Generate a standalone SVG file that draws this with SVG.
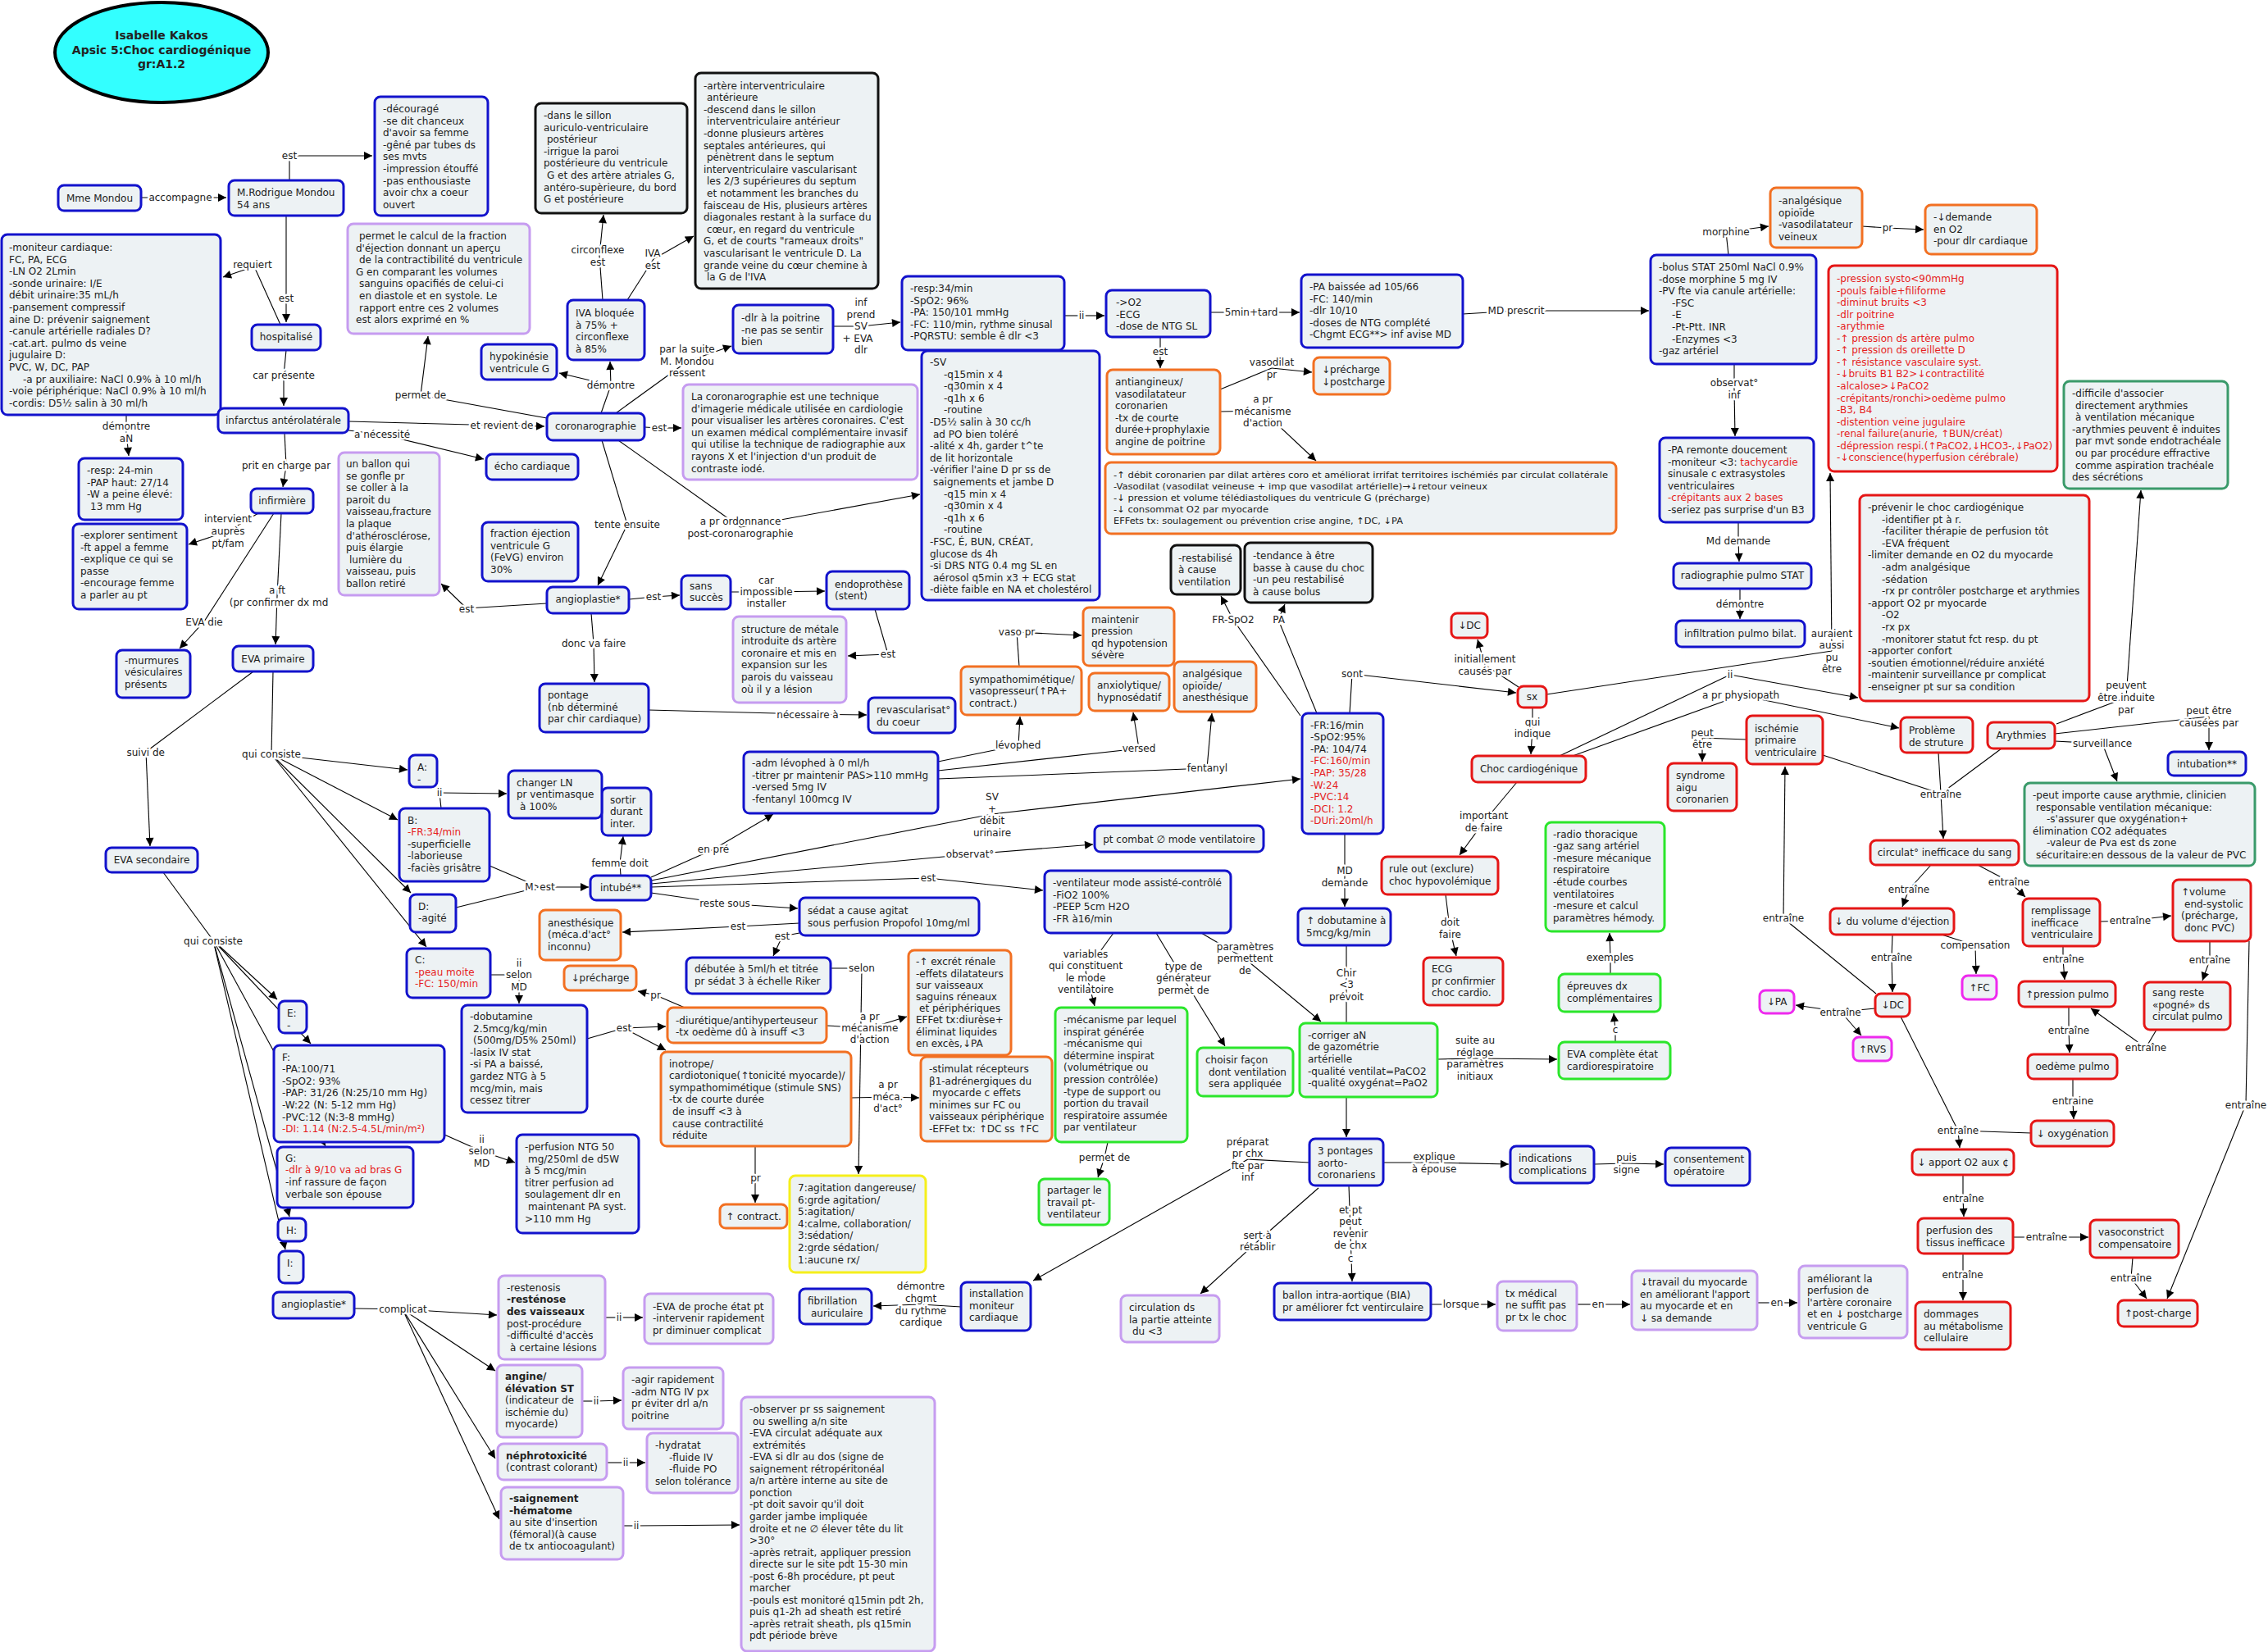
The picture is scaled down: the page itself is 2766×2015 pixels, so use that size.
<svg xmlns="http://www.w3.org/2000/svg" width="2766" height="2015" viewBox="0 0 2766 2015">
<style>
text{font-family:"DejaVu Sans",Verdana,sans-serif;font-size:12px;fill:#222}
.n{fill:#edf2f4;stroke-width:3}
.b{stroke:#1212cc}.p{stroke:#c69cf0}.o{stroke:#f27022}.r{stroke:#e51616}.g{stroke:#2be62b}.dg{stroke:#3a9a6a}.m{stroke:#ee2aee}.y{stroke:#f5ef1c}.k{stroke:#111}
.red{fill:#e61e1e}
.bd{font-weight:bold}
.c{text-anchor:middle}
.l{text-anchor:middle;stroke:#fff;stroke-width:5px;paint-order:stroke;stroke-linejoin:round}
#connectors path{fill:none;stroke:#000;stroke-width:1.1}
#connectors path.a{marker-end:url(#ah)}
</style>
<defs>
<marker id="ah" viewBox="0 0 10 10" refX="10" refY="5" markerWidth="11" markerHeight="10" markerUnits="userSpaceOnUse" orient="auto"><path d="M0,0 L10,5 L0,10 z" fill="#000"/></marker>
</defs>
<rect width="2766" height="2015" fill="#fff"/>

<g id="connectors">
<path class="a" d="M172,241 L276,241"/>
<path d="M353,220 L353,190"/><path class="a" d="M353,190 L454,190"/>
<path d="M349,263 L349,364"/><path class="a" d="M349,364 L349,393"/>
<path d="M342,396 L310,325"/><path class="a" d="M310,325 L272,338"/>
<path d="M349,427 L346,458"/><path class="a" d="M346,458 L346,495"/>
<path d="M154,506 L154,528"/><path class="a" d="M154,528 L157,556"/>
<path d="M425,514 L612,519"/><path class="a" d="M612,519 L664,520"/>
<path d="M425,525 L466,530"/><path class="a" d="M466,530 L590,560"/>
<path d="M667,510 L513,482"/><path class="a" d="M513,482 L522,410"/>
<path d="M733,504 L745,470"/><path class="a" d="M745,470 L744,441"/><path class="a" d="M745,470 L682,455"/>
<path d="M735,366 L731,312"/><path class="a" d="M731,312 L736,262"/>
<path d="M765,366 L797,316"/><path class="a" d="M797,316 L846,288"/>
<path d="M751,504 L838,441"/><path class="a" d="M838,441 L892,422"/>
<path d="M1016,398 L1050,398"/><path class="a" d="M1050,398 L1098,393"/>
<path d="M1298,385 L1319,385"/><path class="a" d="M1319,385 L1347,385"/>
<path d="M1476,381 L1526,381"/><path class="a" d="M1526,381 L1585,381"/>
<path d="M1415,411 L1415,429"/><path class="a" d="M1415,429 L1415,449"/>
<path d="M1784,383 L1849,379"/><path class="a" d="M1849,379 L2011,379"/>
<path d="M1488,475 L1551,449"/><path class="a" d="M1551,449 L1600,454"/>
<path d="M1488,502 L1540,501"/><path class="a" d="M1540,501 L1605,562"/>
<path d="M786,521 L804,522"/><path class="a" d="M804,522 L831,522"/>
<path d="M734,537 L765,640"/><path class="a" d="M765,640 L729,714"/>
<path d="M754,537 L903,643"/><path class="a" d="M903,643 L1122,603"/>
<path d="M2108,311 L2105,283"/><path class="a" d="M2105,283 L2157,276"/>
<path d="M2271,276 L2302,278"/><path class="a" d="M2302,278 L2346,280"/>
<path d="M2115,444 L2115,474"/><path class="a" d="M2115,474 L2116,532"/>
<path d="M2120,637 L2120,660"/><path class="a" d="M2120,660 L2121,685"/>
<path d="M2122,718 L2122,737"/><path class="a" d="M2122,737 L2122,755"/>
<path d="M1886,847 L2234,794"/><path class="a" d="M2234,794 L2232,577"/>
<path d="M1902,922 L2110,823"/><path class="a" d="M2110,823 L2266,851"/>
<path d="M1918,922 L2123,848"/><path class="a" d="M2123,848 L2316,888"/>
<path d="M2130,902 L2076,900"/><path class="a" d="M2076,900 L2076,929"/>
<path d="M2223,921 L2367,968"/><path d="M2364,918 L2367,968"/><path d="M2441,913 L2367,968"/><path class="a" d="M2367,968 L2370,1023"/>
<path d="M2508,883 L2593,851"/><path class="a" d="M2593,851 L2611,598"/>
<path d="M2506,895 L2694,874"/><path class="a" d="M2694,874 L2694,915"/>
<path d="M2506,904 L2564,907"/><path class="a" d="M2564,907 L2582,953"/>
<path d="M2355,1055 L2328,1085"/><path class="a" d="M2328,1085 L2320,1106"/>
<path d="M2412,1055 L2450,1075"/><path class="a" d="M2450,1075 L2470,1094"/>
<path d="M2561,1124 L2598,1123"/><path class="a" d="M2598,1123 L2648,1117"/>
<path d="M2695,1148 L2695,1171"/><path class="a" d="M2695,1171 L2686,1196"/>
<path d="M2630,1256 L2617,1278"/><path class="a" d="M2617,1278 L2550,1230"/>
<path d="M2516,1154 L2516,1170"/><path class="a" d="M2516,1170 L2518,1195"/>
<path d="M2523,1228 L2523,1257"/><path class="a" d="M2523,1257 L2524,1284"/>
<path d="M2528,1316 L2528,1343"/><path class="a" d="M2528,1343 L2529,1365"/>
<path d="M2368,1140 L2409,1153"/><path class="a" d="M2409,1153 L2410,1188"/>
<path d="M2308,1140 L2307,1167"/><path class="a" d="M2307,1167 L2308,1210"/>
<path d="M2287,1230 L2245,1234"/><path class="a" d="M2245,1234 L2190,1226"/><path class="a" d="M2245,1234 L2270,1263"/>
<path d="M2288,1212 L2175,1120"/><path class="a" d="M2175,1120 L2177,935"/>
<path d="M2318,1240 L2388,1379"/><path d="M2477,1382 L2388,1379"/><path class="a" d="M2388,1379 L2390,1400"/>
<path d="M2394,1433 L2394,1462"/><path class="a" d="M2394,1462 L2395,1484"/>
<path d="M2455,1509 L2496,1509"/><path class="a" d="M2496,1509 L2547,1509"/>
<path d="M2601,1534 L2599,1559"/><path class="a" d="M2599,1559 L2618,1584"/>
<path d="M2743,1148 L2739,1347"/><path class="a" d="M2739,1347 L2643,1584"/>
<path d="M2394,1529 L2394,1555"/><path class="a" d="M2394,1555 L2394,1586"/>
<path d="M1586,873 L1504,756"/><path class="a" d="M1504,756 L1489,727"/>
<path d="M1606,870 L1559,756"/><path class="a" d="M1559,756 L1567,737"/>
<path d="M1646,870 L1649,822"/><path class="a" d="M1649,822 L1849,845"/>
<path d="M1852,838 L1811,811"/><path class="a" d="M1811,811 L1802,780"/>
<path d="M1869,863 L1869,888"/><path class="a" d="M1869,888 L1867,920"/>
<path d="M1850,954 L1810,1002"/><path class="a" d="M1810,1002 L1780,1043"/>
<path d="M1763,1091 L1768,1132"/><path class="a" d="M1768,1132 L1776,1166"/>
<path d="M1640,1017 L1640,1069"/><path class="a" d="M1640,1069 L1640,1106"/>
<path d="M1642,1153 L1642,1201"/><path class="a" d="M1642,1201 L1642,1387"/>
<path d="M1753,1292 L1799,1291"/><path class="a" d="M1799,1291 L1899,1292"/>
<path d="M1970,1271 L1970,1256"/><path class="a" d="M1970,1256 L1968,1236"/>
<path d="M1964,1188 L1964,1168"/><path class="a" d="M1964,1168 L1963,1138"/>
<path d="M1465,1138 L1518,1169"/><path class="a" d="M1518,1169 L1611,1246"/>
<path d="M1410,1138 L1443,1193"/><path class="a" d="M1443,1193 L1494,1276"/>
<path d="M1358,1138 L1324,1185"/><path class="a" d="M1324,1185 L1335,1227"/>
<path d="M1351,1393 L1347,1412"/><path class="a" d="M1347,1412 L1339,1436"/>
<path d="M1597,1418 L1522,1414"/><path class="a" d="M1522,1414 L1260,1562"/>
<path d="M1687,1418 L1749,1418"/><path class="a" d="M1749,1418 L1840,1420"/>
<path d="M1944,1420 L1984,1419"/><path class="a" d="M1984,1419 L2029,1420"/>
<path d="M1608,1449 L1534,1514"/><path class="a" d="M1534,1514 L1464,1578"/>
<path d="M1645,1446 L1647,1505"/><path class="a" d="M1647,1505 L1649,1563"/>
<path d="M1745,1591 L1782,1591"/><path class="a" d="M1782,1591 L1824,1591"/>
<path d="M1923,1591 L1949,1591"/><path class="a" d="M1949,1591 L1988,1591"/>
<path d="M2143,1589 L2167,1589"/><path class="a" d="M2167,1589 L2192,1589"/>
<path d="M767,731 L797,728"/><path class="a" d="M797,728 L829,726"/>
<path d="M891,722 L934,722"/><path class="a" d="M934,722 L1006,721"/>
<path d="M1067,743 L1083,798"/><path class="a" d="M1083,798 L1034,800"/>
<path d="M721,748 L724,785"/><path class="a" d="M724,785 L725,832"/>
<path d="M791,866 L985,871"/><path class="a" d="M985,871 L1057,872"/>
<path d="M667,736 L569,742"/><path class="a" d="M569,742 L538,712"/>
<path d="M347,528 L349,568"/><path class="a" d="M349,568 L345,594"/>
<path d="M315,626 L278,648"/><path class="a" d="M278,648 L230,664"/>
<path d="M334,626 L249,758"/><path class="a" d="M249,758 L219,791"/>
<path d="M343,626 L338,727"/><path class="a" d="M338,727 L336,786"/>
<path d="M309,819 L178,917"/><path class="a" d="M178,917 L183,1032"/>
<path d="M333,819 L331,920"/><path class="a" d="M331,920 L497,939"/><path class="a" d="M331,920 L485,1000"/><path class="a" d="M331,920 L501,1089"/><path class="a" d="M331,920 L520,1155"/>
<path d="M538,986 L536,967"/><path class="a" d="M536,967 L618,968"/>
<path d="M597,1056 L658,1082"/><path d="M556,1107 L658,1082"/><path class="a" d="M658,1082 L718,1082"/>
<path d="M757,1068 L756,1053"/><path class="a" d="M756,1053 L760,1020"/>
<path d="M794,1070 L870,1036"/><path class="a" d="M870,1036 L943,993"/>
<path d="M794,1074 L1210,993"/><path class="a" d="M1210,993 L1586,950"/>
<path d="M794,1078 L1183,1042"/><path class="a" d="M1183,1042 L1333,1030"/>
<path d="M794,1082 L1132,1071"/><path class="a" d="M1132,1071 L1272,1086"/>
<path d="M794,1089 L884,1102"/><path class="a" d="M884,1102 L973,1108"/>
<path d="M975,1126 L900,1130"/><path class="a" d="M900,1130 L759,1137"/>
<path d="M975,1138 L954,1142"/><path class="a" d="M954,1142 L943,1166"/>
<path d="M1013,1181 L1051,1181"/><path class="a" d="M1051,1181 L1047,1432"/>
<path d="M1144,929 L1242,909"/><path class="a" d="M1242,909 L1244,874"/>
<path d="M1144,940 L1389,913"/><path class="a" d="M1389,913 L1382,869"/>
<path d="M1144,950 L1472,937"/><path class="a" d="M1472,937 L1478,870"/>
<path d="M1243,813 L1240,771"/><path class="a" d="M1240,771 L1319,775"/>
<path d="M598,1189 L633,1189"/><path class="a" d="M633,1189 L633,1224"/>
<path d="M716,1267 L761,1254"/><path class="a" d="M761,1254 L812,1252"/><path class="a" d="M761,1254 L812,1281"/>
<path d="M835,1229 L800,1214"/><path class="a" d="M800,1214 L778,1209"/>
<path d="M1008,1251 L1061,1254"/><path class="a" d="M1061,1254 L1106,1240"/>
<path d="M1038,1339 L1083,1338"/><path class="a" d="M1083,1338 L1121,1339"/>
<path d="M921,1398 L921,1437"/><path class="a" d="M921,1437 L921,1467"/>
<path d="M1172,1594 L1123,1591"/><path class="a" d="M1123,1591 L1065,1593"/>
<path d="M199,1064 L260,1147"/><path class="a" d="M260,1147 L338,1219"/><path class="a" d="M260,1147 L379,1273"/><path class="a" d="M260,1147 L397,1398"/><path class="a" d="M260,1147 L353,1484"/><path class="a" d="M260,1147 L348,1524"/>
<path d="M542,1384 L587,1404"/><path class="a" d="M587,1404 L628,1418"/>
<path d="M432,1596 L491,1597"/><path class="a" d="M491,1597 L606,1604"/><path class="a" d="M491,1597 L604,1672"/><path class="a" d="M491,1597 L604,1779"/><path class="a" d="M491,1597 L609,1853"/>
<path d="M738,1607 L755,1607"/><path class="a" d="M755,1607 L784,1607"/>
<path d="M710,1709 L727,1709"/><path class="a" d="M727,1709 L758,1708"/>
<path d="M740,1784 L763,1784"/><path class="a" d="M763,1784 L787,1784"/>
<path d="M760,1861 L776,1861"/><path class="a" d="M776,1861 L902,1860"/>

<text class="l" x="220" y="245">accompagne</text>
<text class="l" x="353" y="194">est</text>
<text class="l" x="349" y="368">est</text>
<text class="l" x="308" y="327">requiert</text>
<text class="l" x="346" y="462">car présente</text>
<text class="l" x="154" y="524">démontre<tspan x="154" dy="15">aN</tspan></text>
<text class="l" x="612" y="523">et revient de</text>
<text class="l" x="466" y="534">a nécessité</text>
<text class="l" x="513" y="486">permet de</text>
<text class="l" x="745" y="474">démontre</text>
<text class="l" x="729" y="309">circonflexe<tspan x="729" dy="15">est</tspan></text>
<text class="l" x="796" y="313">IVA<tspan x="796" dy="15">est</tspan></text>
<text class="l" x="838" y="430">par la suite<tspan x="838" dy="14.6">M. Mondou</tspan><tspan x="838" dy="14.6">ressent</tspan></text>
<text class="l" x="1050" y="373">inf<tspan x="1050" dy="14.6">prend</tspan><tspan x="1050" dy="14.6">SV</tspan><tspan x="1046" dy="14.6">+  EVA</tspan><tspan x="1050" dy="14.6">dlr</tspan></text>
<text class="l" x="1319" y="389">ii</text>
<text class="l" x="1526" y="385">5min+tard</text>
<text class="l" x="1415" y="433">est</text>
<text class="l" x="1849" y="383">MD prescrit</text>
<text class="l" x="1551" y="446">vasodilat<tspan x="1551" dy="15">pr</tspan></text>
<text class="l" x="1540" y="491">a pr<tspan x="1540" dy="14.6">mécanisme</tspan><tspan x="1540" dy="14.6">d'action</tspan></text>
<text class="l" x="804" y="526">est</text>
<text class="l" x="765" y="644">tente ensuite</text>
<text class="l" x="903" y="640">a pr ordonnance<tspan x="903" dy="14.6">post-coronarographie</tspan></text>
<text class="l" x="2105" y="287">morphine</text>
<text class="l" x="2302" y="282">pr</text>
<text class="l" x="2115" y="471">observat°<tspan x="2115" dy="15">inf</tspan></text>
<text class="l" x="2120" y="664">Md demande</text>
<text class="l" x="2122" y="741">démontre</text>
<text class="l" x="2234" y="776.5">auraient<tspan x="2234" dy="14.6">aussi</tspan><tspan x="2234" dy="14.6">pu</tspan><tspan x="2234" dy="14.6">être</tspan></text>
<text class="l" x="2110" y="827">ii</text>
<text class="l" x="2123" y="852">a pr physiopath</text>
<text class="l" x="2076" y="897.5">peut<tspan x="2076" dy="14">être</tspan></text>
<text class="l" x="2367" y="972.5">entraîne</text>
<text class="l" x="2593" y="840">peuvent<tspan x="2593" dy="15">être induite</tspan><tspan x="2593" dy="15">par</tspan></text>
<text class="l" x="2694" y="871">peut être<tspan x="2694" dy="14.6">causées par</tspan></text>
<text class="l" x="2564" y="911">surveillance</text>
<text class="l" x="2328" y="1089">entraîne</text>
<text class="l" x="2450" y="1079.6">entraîne</text>
<text class="l" x="2598" y="1127">entraîne</text>
<text class="l" x="2695" y="1175">entraîne</text>
<text class="l" x="2617" y="1282">entraîne</text>
<text class="l" x="2516.5" y="1174">entraîne</text>
<text class="l" x="2523" y="1261">entraîne</text>
<text class="l" x="2528" y="1347">entraine</text>
<text class="l" x="2409" y="1157">compensation</text>
<text class="l" x="2307" y="1171.6">entraîne</text>
<text class="l" x="2244.6" y="1238.5">entraîne</text>
<text class="l" x="2175" y="1124">entraîne</text>
<text class="l" x="2388" y="1383">entraîne</text>
<text class="l" x="2394.5" y="1466">entraîne</text>
<text class="l" x="2496" y="1512.7">entraîne</text>
<text class="l" x="2599" y="1562.7">entraîne</text>
<text class="l" x="2739" y="1351.5">entraîne</text>
<text class="l" x="2393.6" y="1559">entraîne</text>
<text class="l" x="1504" y="760">FR-SpO2</text>
<text class="l" x="1559.5" y="760">PA</text>
<text class="l" x="1649" y="825.6">sont</text>
<text class="l" x="1811" y="807.75">initiallement<tspan x="1811" dy="14.75">causés par</tspan></text>
<text class="l" x="1869" y="885">qui<tspan x="1869" dy="14">indique</tspan></text>
<text class="l" x="1809.6" y="999">important<tspan x="1809.6" dy="14.6">de faire</tspan></text>
<text class="l" x="1768.5" y="1129">doit<tspan x="1768.5" dy="14.5">faire</tspan></text>
<text class="l" x="1640" y="1066">MD<tspan x="1640" dy="15">demande</tspan></text>
<text class="l" x="1642" y="1190.8">Chir<tspan x="1642" dy="14.5">&lt;3</tspan><tspan x="1642" dy="14.6">prévoit</tspan></text>
<text class="l" x="1799" y="1273">suite au<tspan x="1799" dy="14.6">réglage</tspan><tspan x="1799" dy="14.6">paramètres</tspan><tspan x="1799" dy="14.6">initiaux</tspan></text>
<text class="l" x="1970" y="1260">c</text>
<text class="l" x="1963.6" y="1172">exemples</text>
<text class="l" x="1518.5" y="1158.6">paramètres<tspan x="1518.5" dy="14.6">permettent</tspan><tspan x="1518.5" dy="14.6">de</tspan></text>
<text class="l" x="1443.5" y="1182.75">type de<tspan x="1443.5" dy="14.6">générateur</tspan><tspan x="1443.5" dy="14.6">permet de</tspan></text>
<text class="l" x="1324" y="1167.6">variables<tspan x="1324" dy="14.6">qui constituent</tspan><tspan x="1324" dy="14.6">le mode</tspan><tspan x="1324" dy="14.6">ventilatoire</tspan></text>
<text class="l" x="1347" y="1416">permet de</text>
<text class="l" x="1521.6" y="1396.5">préparat<tspan x="1521.6" dy="14.6">pr chx</tspan><tspan x="1521.6" dy="14.6">fte par</tspan><tspan x="1521.6" dy="14.6">inf</tspan></text>
<text class="l" x="1749" y="1415">explique<tspan x="1749" dy="14.7">à épouse</tspan></text>
<text class="l" x="1983.7" y="1416">puis<tspan x="1983.7" dy="14.5">signe</tspan></text>
<text class="l" x="1533.7" y="1510.6">sert à<tspan x="1533.7" dy="14.4">rétablir</tspan></text>
<text class="l" x="1647" y="1479.6">et pt<tspan x="1647" dy="14.5">peut</tspan><tspan x="1647" dy="14.5">revenir</tspan><tspan x="1647" dy="14.5">de chx</tspan><tspan x="1647" dy="15.5">c</tspan></text>
<text class="l" x="1782" y="1595">lorsque</text>
<text class="l" x="1949" y="1595">en</text>
<text class="l" x="2167" y="1593">en</text>
<text class="l" x="797" y="732">est</text>
<text class="l" x="934.5" y="711.8">car<tspan x="934.5" dy="14.3">impossible</tspan><tspan x="934.5" dy="14.3">installer</tspan></text>
<text class="l" x="1083" y="802">est</text>
<text class="l" x="724" y="789">donc va faire</text>
<text class="l" x="985" y="875.6">nécessaire à</text>
<text class="l" x="569" y="746.6">est</text>
<text class="l" x="349" y="572">prit en charge par</text>
<text class="l" x="278" y="637">intervient<tspan x="278" dy="15">auprès</tspan><tspan x="278" dy="15">pt/fam</tspan></text>
<text class="l" x="249" y="762.7">EVA die</text>
<text class="l" x="338" y="724">a ft<tspan x="340" dy="14.6">(pr confirmer dx md</tspan></text>
<text class="l" x="177.7" y="921.6">suivi de</text>
<text class="l" x="331" y="924">qui consiste</text>
<text class="l" x="536" y="971">ii</text>
<text class="l" x="658.5" y="1086">M. est</text>
<text class="l" x="756" y="1057">femme doit</text>
<text class="l" x="870" y="1040">en pré</text>
<text class="l" x="1210" y="975.6">SV<tspan x="1210" dy="15">+</tspan><tspan x="1210" dy="14.6">débit</tspan><tspan x="1210" dy="14.3">urinaire</tspan></text>
<text class="l" x="1183" y="1046">observat°</text>
<text class="l" x="1132" y="1075">est</text>
<text class="l" x="884" y="1106">reste sous</text>
<text class="l" x="900" y="1134">est</text>
<text class="l" x="954" y="1146">est</text>
<text class="l" x="1051" y="1185">selon</text>
<text class="l" x="1241.6" y="912.7">lévophed</text>
<text class="l" x="1389" y="917">versed</text>
<text class="l" x="1472.5" y="941">fentanyl</text>
<text class="l" x="1240" y="774.7">vaso pr</text>
<text class="l" x="633" y="1178.7">ii<tspan x="633" dy="14.4">selon</tspan><tspan x="633" dy="14.7">MD</tspan></text>
<text class="l" x="761" y="1257.75">est</text>
<text class="l" x="799.6" y="1217.6">pr</text>
<text class="l" x="1060.8" y="1243.5">a pr<tspan x="1060.8" dy="14.2">mécanisme</tspan><tspan x="1060.8" dy="14">d'action</tspan></text>
<text class="l" x="1083" y="1327">a pr<tspan x="1083" dy="14.7">méca.</tspan><tspan x="1083" dy="14.4">d'act°</tspan></text>
<text class="l" x="921.5" y="1441">pr</text>
<text class="l" x="1123" y="1573.4">démontre<tspan x="1123" dy="14.6">chgmt</tspan><tspan x="1123" dy="14.6">du rythme</tspan><tspan x="1123" dy="14.6">cardique</tspan></text>
<text class="l" x="260" y="1151.5">qui consiste</text>
<text class="l" x="587.5" y="1393.5">ii<tspan x="587.5" dy="14.6">selon</tspan><tspan x="587.5" dy="14.6">MD</tspan></text>
<text class="l" x="491.5" y="1601">complicat</text>
<text class="l" x="755" y="1611">ii</text>
<text class="l" x="727" y="1713">ii</text>
<text class="l" x="763" y="1788">ii</text>
<text class="l" x="776" y="1865">ii</text>
</g>

<g id="title"><ellipse cx="197" cy="64" rx="130" ry="61" fill="#33ffff" stroke="#000" stroke-width="4"/><text class="c bd" style="font-size:14px" x="197" y="48">Isabelle Kakos<tspan x="197" dy="17.5">Apsic 5:Choc cardiogénique</tspan><tspan x="197" dy="17.5">gr:A1.2</tspan></text></g>

<g id="mme"><rect class="n b" x="71" y="226" width="101" height="31" rx="7"/><text class="c" x="121.5" y="245.5">Mme Mondou</text></g>
<g id="rodrigue"><rect class="n b" x="279" y="220" width="140" height="43" rx="7"/><text x="289" y="239">M.Rodrigue Mondou<tspan x="289" dy="14.6">54 ans</tspan></text></g>
<g id="decourage"><rect class="n b" x="457" y="118" width="138" height="145" rx="7"/><text x="467" y="137">-découragé<tspan x="467" dy="14.6">-se dit chanceux</tspan><tspan x="467" dy="14.6">d'avoir sa femme</tspan><tspan x="467" dy="14.6">-gêné par tubes ds</tspan><tspan x="467" dy="14.6">ses mvts</tspan><tspan x="467" dy="14.6">-impression étouffé</tspan><tspan x="467" dy="14.6">-pas enthousiaste</tspan><tspan x="467" dy="14.6">avoir chx a coeur</tspan><tspan x="467" dy="14.6">ouvert</tspan></text></g>
<g id="moniteur"><rect class="n b" x="2" y="286" width="267" height="220" rx="7"/><text x="11" y="306">-moniteur cardiaque:<tspan x="11" dy="14.6">FC, PA, ECG</tspan><tspan x="11" dy="14.6">-LN O2 2Lmin</tspan><tspan x="11" dy="14.6">-sonde urinaire: I/E</tspan><tspan x="11" dy="14.6">débit urinaire:35 mL/h</tspan><tspan x="11" dy="14.6">-pansement compressif</tspan><tspan x="11" dy="14.6">aine D: prévenir saignement</tspan><tspan x="11" dy="14.6">-canule artérielle radiales D?</tspan><tspan x="11" dy="14.6">-cat.art. pulmo ds veine</tspan><tspan x="11" dy="14.6">jugulaire D:</tspan><tspan x="11" dy="14.6">PVC, W, DC, PAP</tspan><tspan x="28" dy="14.6">-a pr auxiliaire: NaCl 0.9% à 10 ml/h</tspan><tspan x="11" dy="14.6">-voie périphérique: NaCl 0.9% à 10 ml/h</tspan><tspan x="11" dy="14.6">-cordis: D5½ salin à 30 ml/h</tspan></text></g>
<g id="hospitalise"><rect class="n b" x="307" y="396" width="84" height="31" rx="7"/><text class="c" x="349" y="415">hospitalisé</text></g>
<g id="infarctus"><rect class="n b" x="266" y="498" width="159" height="30" rx="7"/><text class="c" x="345.5" y="517">infarctus antérolatérale</text></g>
<g id="resp24"><rect class="n b" x="96" y="559" width="127" height="75" rx="7"/><text x="106" y="578">-resp: 24-min<tspan x="106" dy="14.6">-PAP haut: 27/14</tspan><tspan x="106" dy="14.6">-W a peine élevé:</tspan><tspan x="110" dy="14.6">13 mm Hg</tspan></text></g>
<g id="coronarographie"><rect class="n b" x="667" y="504" width="119" height="33" rx="7"/><text class="c" x="726.5" y="524">coronarographie</text></g>
<g id="permetcalc"><rect class="n p" x="424" y="273" width="222" height="134" rx="7"/><text x="438" y="292">permet le calcul de la fraction<tspan x="434" dy="14.6">d'éjection donnant un aperçu</tspan><tspan x="438" dy="14.6">de la contractibilité du ventricule</tspan><tspan x="434" dy="14.6">G en comparant les volumes</tspan><tspan x="438" dy="14.6">sanguins opacifiés de celui-ci</tspan><tspan x="438" dy="14.6">en diastole et en systole. Le</tspan><tspan x="438" dy="14.6">rapport entre ces 2 volumes</tspan><tspan x="434" dy="14.6">est alors exprimé en %</tspan></text></g>
<g id="hypokinesie"><rect class="n b" x="587" y="420" width="92" height="43" rx="7"/><text x="597" y="439">hypokinésie<tspan x="597" dy="14.6">ventricule G</tspan></text></g>
<g id="echo"><rect class="n b" x="593" y="554" width="112" height="31" rx="7"/><text class="c" x="649" y="573">écho cardiaque</text></g>
<g id="fraction"><rect class="n b" x="588" y="637" width="117" height="72" rx="7"/><text x="598" y="655">fraction éjection<tspan x="598" dy="14.6">ventricule G</tspan><tspan x="598" dy="14.6">(FeVG) environ</tspan><tspan x="598" dy="14.6">30%</tspan></text></g>
<g id="infirmiere"><rect class="n b" x="306" y="596" width="76" height="30" rx="7"/><text class="c" x="344" y="615">infirmière</text></g>
<g id="explorer"><rect class="n b" x="89" y="639" width="139" height="104" rx="7"/><text x="98" y="657">-explorer sentiment<tspan x="98" dy="14.6">-ft appel a femme</tspan><tspan x="98" dy="14.6">-explique ce qui se</tspan><tspan x="98" dy="14.6">passe</tspan><tspan x="98" dy="14.6">-encourage femme</tspan><tspan x="98" dy="14.6">a parler au pt</tspan></text></g>
<g id="ballon"><rect class="n p" x="413" y="552" width="123" height="174" rx="7"/><text x="422" y="570">un ballon qui<tspan x="422" dy="14.6">se gonfle pr</tspan><tspan x="422" dy="14.6">se coller à la</tspan><tspan x="422" dy="14.6">paroit du</tspan><tspan x="422" dy="14.6">vaisseau,fracture</tspan><tspan x="422" dy="14.6">la plaque</tspan><tspan x="422" dy="14.6">d'athérosclérose,</tspan><tspan x="422" dy="14.6">puis élargie</tspan><tspan x="426" dy="14.6">lumière du</tspan><tspan x="422" dy="14.6">vaisseau, puis</tspan><tspan x="422" dy="14.6">ballon retiré</tspan></text></g>
<g id="sillon"><rect class="n k" x="653" y="126" width="185" height="134" rx="7"/><text x="663" y="145">-dans le sillon<tspan x="663" dy="14.6">auriculo-ventriculaire</tspan><tspan x="667" dy="14.6">postérieur</tspan><tspan x="663" dy="14.6">-irrigue la paroi</tspan><tspan x="663" dy="14.6">postérieure du ventricule</tspan><tspan x="667" dy="14.6">G et des artère atriales G,</tspan><tspan x="663" dy="14.6">antéro-supèrieure, du bord</tspan><tspan x="663" dy="14.6">G et postérieure</tspan></text></g>
<g id="artere"><rect class="n k" x="848" y="89" width="223" height="263" rx="7"/><text x="858" y="108.5">-artère interventriculaire<tspan x="862" dy="14.6">antérieure</tspan><tspan x="858" dy="14.6">-descend dans le sillon</tspan><tspan x="862" dy="14.6">interventriculaire antérieur</tspan><tspan x="858" dy="14.6">-donne plusieurs artères</tspan><tspan x="858" dy="14.6">septales antérieures, qui</tspan><tspan x="862" dy="14.6">pénètrent dans le septum</tspan><tspan x="858" dy="14.6">interventriculaire vascularisant</tspan><tspan x="862" dy="14.6">les 2/3 supérieures du septum</tspan><tspan x="862" dy="14.6">et notamment les branches du</tspan><tspan x="858" dy="14.6">faisceau de His, plusieurs artères</tspan><tspan x="858" dy="14.6">diagonales restant à la surface du</tspan><tspan x="862" dy="14.6">cœur, en regard du ventricule</tspan><tspan x="858" dy="14.6">G, et de courts "rameaux droits"</tspan><tspan x="858" dy="14.6">vascularisant le ventricule D. La</tspan><tspan x="858" dy="14.6">grande veine du cœur chemine à</tspan><tspan x="862" dy="14.6">la G de l'IVA</tspan></text></g>
<g id="ivabloquee"><rect class="n b" x="692" y="366" width="94" height="73" rx="7"/><text x="702" y="386">IVA bloquée<tspan x="702" dy="14.6">à 75% +</tspan><tspan x="702" dy="14.6">circonflexe</tspan><tspan x="702" dy="14.6">à 85%</tspan></text></g>
<g id="dlr"><rect class="n b" x="894" y="372" width="122" height="59" rx="7"/><text x="904" y="392">-dlr à la poitrine<tspan x="904" dy="14.6">-ne pas se sentir</tspan><tspan x="904" dy="14.6">bien</tspan></text></g>
<g id="resp34"><rect class="n b" x="1100" y="337" width="198" height="90" rx="7"/><text x="1110" y="356">-resp:34/min<tspan x="1110" dy="14.6">-SpO2: 96%</tspan><tspan x="1110" dy="14.6">-PA: 150/101 mmHg</tspan><tspan x="1110" dy="14.6">-FC: 110/min, rythme sinusal</tspan><tspan x="1110" dy="14.6">-PQRSTU: semble ê dlr &lt;3</tspan></text></g>
<g id="lacoro"><rect class="n p" x="833" y="469" width="286" height="116" rx="7"/><text x="843" y="488">La coronarographie est une technique<tspan x="843" dy="14.6">d'imagerie médicale utilisée en cardiologie</tspan><tspan x="843" dy="14.6">pour visualiser les artères coronaires. C'est</tspan><tspan x="843" dy="14.6">un examen médical complémentaire invasif</tspan><tspan x="843" dy="14.6">qui utilise la technique de radiographie aux</tspan><tspan x="843" dy="14.6">rayons X et l'injection d'un produit de</tspan><tspan x="843" dy="14.6">contraste iodé.</tspan></text></g>
<g id="sv"><rect class="n b" x="1124" y="428" width="217" height="304" rx="7"/><text x="1134" y="446">-SV<tspan x="1151" dy="14.6">-q15min x 4</tspan><tspan x="1151" dy="14.6">-q30min x 4</tspan><tspan x="1151" dy="14.6">-q1h x 6</tspan><tspan x="1151" dy="14.6">-routine</tspan><tspan x="1134" dy="14.6">-D5½ salin à 30 cc/h</tspan><tspan x="1138" dy="14.6">ad PO bien toléré</tspan><tspan x="1134" dy="14.6">-alité x 4h, garder t^te</tspan><tspan x="1134" dy="14.6">de lit horizontale</tspan><tspan x="1134" dy="14.6">-vérifier l'aine D pr ss de</tspan><tspan x="1138" dy="14.6">saignements et jambe D</tspan><tspan x="1151" dy="14.6">-q15 min x 4</tspan><tspan x="1151" dy="14.6">-q30min x 4</tspan><tspan x="1151" dy="14.6">-q1h x 6</tspan><tspan x="1151" dy="14.6">-routine</tspan><tspan x="1134" dy="14.6">-FSC, É, BUN, CRÉAT,</tspan><tspan x="1134" dy="14.6">glucose ds 4h</tspan><tspan x="1134" dy="14.6">-si DRS NTG 0.4 mg SL en</tspan><tspan x="1138" dy="14.6">aérosol q5min x3 + ECG stat</tspan><tspan x="1134" dy="14.6">-diète faible en NA et cholestérol</tspan></text></g>
<g id="angio1"><rect class="n b" x="667" y="716" width="100" height="32" rx="7"/><text class="c" x="717" y="735">angioplastie*</text></g>
<g id="o2"><rect class="n b" x="1349" y="354" width="127" height="57" rx="7"/><text x="1361" y="373">-&gt;O2<tspan x="1361" dy="14.6">-ECG</tspan><tspan x="1361" dy="14.6">-dose de NTG  SL</tspan></text></g>
<g id="pabaissee"><rect class="n b" x="1587" y="335" width="197" height="89" rx="7"/><text x="1597" y="354">-PA baissée ad 105/66<tspan x="1597" dy="14.6">-FC: 140/min</tspan><tspan x="1597" dy="14.6">-dlr 10/10</tspan><tspan x="1597" dy="14.6">-doses de NTG complété</tspan><tspan x="1597" dy="14.6">-Chgmt ECG**&gt; inf avise MD</tspan></text></g>
<g id="antiang"><rect class="n o" x="1350" y="451" width="138" height="103" rx="7"/><text x="1360" y="470">antiangineux/<tspan x="1360" dy="14.6">vasodilatateur</tspan><tspan x="1360" dy="14.6">coronarien</tspan><tspan x="1360" dy="14.6">-tx de courte</tspan><tspan x="1360" dy="14.6">durée+prophylaxie</tspan><tspan x="1360" dy="14.6">angine de poitrine</tspan></text></g>
<g id="precharge1"><rect class="n o" x="1602" y="436" width="93" height="45" rx="7"/><text x="1612" y="455">↓précharge<tspan x="1612" dy="14.6">↓postcharge</tspan></text></g>
<g id="bigorange"><rect class="n o" x="1348" y="564" width="623" height="87" rx="7"/><text style="font-size:11px" x="1358" y="583" textLength="603" lengthAdjust="spacingAndGlyphs">-↑ débit coronarien par dilat artères coro et améliorat irrifat territoires ischémiés par circulat collatérale</text><text style="font-size:11px" x="1358" y="597" textLength="456" lengthAdjust="spacingAndGlyphs">-Vasodilat (vasodilat veineuse + imp que vasodilat artérielle)→↓retour veineux</text><text style="font-size:11px" x="1358" y="611" textLength="386" lengthAdjust="spacingAndGlyphs">-↓ pression et volume télédiastoliques du ventricule G (précharge)</text><text style="font-size:11px" x="1358" y="625" textLength="189" lengthAdjust="spacingAndGlyphs">-↓ consommat O2 par myocarde</text><text style="font-size:11px" x="1358" y="639" textLength="353" lengthAdjust="spacingAndGlyphs">EFFets tx: soulagement ou prévention crise angine, ↑DC, ↓PA</text></g>
<g id="bolus"><rect class="n b" x="2013" y="311" width="202" height="133" rx="7"/><text x="2023" y="330">-bolus STAT 250ml NaCl 0.9%<tspan x="2023" dy="14.6">-dose morphine 5 mg IV</tspan><tspan x="2023" dy="14.6">-PV fte via canule artérielle:</tspan><tspan x="2039" dy="14.6">-FSC</tspan><tspan x="2039" dy="14.6">-E</tspan><tspan x="2039" dy="14.6">-Pt-Ptt. INR</tspan><tspan x="2039" dy="14.6">-Enzymes &lt;3</tspan><tspan x="2023" dy="14.6">-gaz artériel</tspan></text></g>
<g id="analg"><rect class="n o" x="2159" y="229" width="112" height="73" rx="7"/><text x="2169" y="249">-analgésique<tspan x="2169" dy="14.6">opioïde</tspan><tspan x="2169" dy="14.6">-vasodilatateur</tspan><tspan x="2169" dy="14.6">veineux</tspan></text></g>
<g id="demande"><rect class="n o" x="2348" y="250" width="136" height="60" rx="7"/><text x="2358" y="269">-↓demande<tspan x="2358" dy="14.6">en O2</tspan><tspan x="2358" dy="14.6">-pour dlr cardiaque</tspan></text></g>
<g id="redsigns"><rect class="n r" x="2230" y="324" width="279" height="251" rx="7"/><text class="red" x="2240" y="344">-pression systo&lt;90mmHg<tspan x="2240" dy="14.55">-pouls faible+filiforme</tspan><tspan x="2240" dy="14.55">-diminut bruits &lt;3</tspan><tspan x="2240" dy="14.55">-dlr poitrine</tspan><tspan x="2240" dy="14.55">-arythmie</tspan><tspan x="2240" dy="14.55">-↑ pression ds artère pulmo</tspan><tspan x="2240" dy="14.55">-↑ pression ds oreillette D</tspan><tspan x="2240" dy="14.55">-↑ résistance vasculaire syst.</tspan><tspan x="2240" dy="14.55">-↓bruits B1 B2&gt;↓contractilité</tspan><tspan x="2240" dy="14.55">-alcalose&gt;↓PaCO2</tspan><tspan x="2240" dy="14.55">-crépitants/ronchi&gt;oedème pulmo</tspan><tspan x="2240" dy="14.55">-B3, B4</tspan><tspan x="2240" dy="14.55">-distention veine jugulaire</tspan><tspan x="2240" dy="14.55">-renal failure(anurie, ↑BUN/créat)</tspan><tspan x="2240" dy="14.55">-dépression respi.(↑PaCO2,↓HCO3-,↓PaO2)</tspan><tspan x="2240" dy="14.55">-↓conscience(hyperfusion cérébrale)</tspan></text></g>
<g id="paremonte"><rect class="n b" x="2024" y="534" width="188" height="103" rx="7"/><text x="2034" y="553">-PA remonte doucement<tspan x="2034" dy="14.6">-moniteur &lt;3: <tspan class="red">tachycardie</tspan></tspan><tspan x="2034" dy="14.6">sinusale c extrasystoles</tspan><tspan x="2034" dy="14.6">ventriculaires</tspan><tspan x="2034" dy="14.6" class="red">-crépitants aux 2 bases</tspan><tspan x="2034" dy="14.6">-seriez pas surprise d'un B3</tspan></text></g>
<g id="green1"><rect class="n dg" x="2517" y="465" width="200" height="131" rx="7"/><text x="2527" y="484">-difficile d'associer<tspan x="2531" dy="14.6">directement arythmies</tspan><tspan x="2531" dy="14.6">à ventilation mécanique</tspan><tspan x="2527" dy="14.6">-arythmies peuvent ê induites</tspan><tspan x="2531" dy="14.6">par mvt sonde endotrachéale</tspan><tspan x="2531" dy="14.6">ou par procédure effractive</tspan><tspan x="2531" dy="14.6">comme aspiration trachéale</tspan><tspan x="2527" dy="14.6">des sécrétions</tspan></text></g>
<g id="prevenir"><rect class="n r" x="2268" y="604" width="280" height="251" rx="7"/><text x="2278" y="623">-prévenir le choc cardiogénique<tspan x="2295" dy="14.6">-identifier pt à r.</tspan><tspan x="2295" dy="14.6">-faciliter thérapie de perfusion tôt</tspan><tspan x="2295" dy="14.6">-EVA fréquent</tspan><tspan x="2278" dy="14.6">-limiter demande en O2 du myocarde</tspan><tspan x="2295" dy="14.6">-adm analgésique</tspan><tspan x="2295" dy="14.6">-sédation</tspan><tspan x="2295" dy="14.6">-rx pr contrôler postcharge et arythmies</tspan><tspan x="2278" dy="14.6">-apport O2 pr myocarde</tspan><tspan x="2295" dy="14.6">-O2</tspan><tspan x="2295" dy="14.6">-rx px</tspan><tspan x="2295" dy="14.6">-monitorer statut fct resp. du pt</tspan><tspan x="2278" dy="14.6">-apporter confort</tspan><tspan x="2278" dy="14.6">-soutien émotionnel/réduire anxiété</tspan><tspan x="2278" dy="14.6">-maintenir surveillance pr complicat</tspan><tspan x="2278" dy="14.6">-enseigner pt sur sa condition</tspan></text></g>
<g id="radiographie"><rect class="n b" x="2041" y="687" width="168" height="31" rx="7"/><text class="c" x="2125" y="706">radiographie pulmo STAT</text></g>
<g id="infiltration"><rect class="n b" x="2044" y="757" width="157" height="32" rx="7"/><text class="c" x="2122.5" y="777">infiltration pulmo bilat.</text></g>
<g id="syndrome"><rect class="n r" x="2034" y="931" width="84" height="58" rx="7"/><text x="2044" y="950">syndrome<tspan x="2044" dy="14.6">aigu</tspan><tspan x="2044" dy="14.6">coronarien</tspan></text></g>
<g id="ischemie"><rect class="n r" x="2130" y="873" width="93" height="59" rx="7"/><text x="2140" y="892.5">ischémie<tspan x="2140" dy="14.6">primaire</tspan><tspan x="2140" dy="14.6">ventriculaire</tspan></text></g>
<g id="probleme"><rect class="n r" x="2318" y="875" width="88" height="43" rx="7"/><text x="2328" y="895">Problème<tspan x="2328" dy="14.6">de struture</tspan></text></g>
<g id="arythmies"><rect class="n r" x="2424" y="881" width="82" height="32" rx="7"/><text class="c" x="2465" y="901">Arythmies</text></g>
<g id="intubation"><rect class="n b" x="2644" y="917" width="95" height="29" rx="7"/><text class="c" x="2691.5" y="935.5">intubation**</text></g>
<g id="green2"><rect class="n dg" x="2469" y="955" width="281" height="101" rx="7"/><text x="2479" y="974">-peut importe cause arythmie, clinicien<tspan x="2483" dy="14.6">responsable ventilation mécanique:</tspan><tspan x="2496" dy="14.6">-s'assurer que oxygénation+</tspan><tspan x="2479" dy="14.6">élimination CO2 adéquates</tspan><tspan x="2496" dy="14.6">-valeur de Pva est ds zone</tspan><tspan x="2483" dy="14.6">sécuritaire:en dessous de la valeur de PVC</tspan></text></g>
<g id="circulat"><rect class="n r" x="2281" y="1025" width="181" height="30" rx="7"/><text class="c" x="2371.5" y="1044">circulat° inefficace du sang</text></g>
<g id="duvolume"><rect class="n r" x="2232" y="1108" width="151" height="32" rx="7"/><text class="c" x="2307.5" y="1128">↓ du volume d'éjection</text></g>
<g id="remplissage"><rect class="n r" x="2467" y="1096" width="94" height="58" rx="7"/><text x="2477" y="1115">remplissage<tspan x="2477" dy="14.6">inefficace</tspan><tspan x="2477" dy="14.6">ventriculaire</tspan></text></g>
<g id="volume"><rect class="n r" x="2650" y="1073" width="95" height="75" rx="7"/><text x="2660" y="1092">↑volume<tspan x="2664" dy="14.6">end-systolic</tspan><tspan x="2660" dy="14.6">(précharge,</tspan><tspan x="2664" dy="14.6">donc PVC)</tspan></text></g>
<g id="sangreste"><rect class="n r" x="2615" y="1198" width="105" height="58" rx="7"/><text x="2625" y="1215">sang reste<tspan x="2625" dy="14.6">«pogné» ds</tspan><tspan x="2625" dy="14.6">circulat pulmo</tspan></text></g>
<g id="pressionpulmo"><rect class="n r" x="2462" y="1197" width="118" height="31" rx="7"/><text class="c" x="2521" y="1216.5">↑pression pulmo</text></g>
<g id="oedeme"><rect class="n r" x="2473" y="1286" width="109" height="30" rx="7"/><text class="c" x="2527.5" y="1305">oedème pulmo</text></g>
<g id="fc"><rect class="n m" x="2393" y="1190" width="42" height="29" rx="7"/><text class="c" x="2414" y="1209">↑FC</text></g>
<g id="dc2"><rect class="n r" x="2287" y="1212" width="42" height="28" rx="7"/><text class="c" x="2308" y="1230">↓DC</text></g>
<g id="pa2"><rect class="n m" x="2146" y="1208" width="42" height="28" rx="7"/><text class="c" x="2167" y="1226">↓PA</text></g>
<g id="rvs"><rect class="n m" x="2260" y="1265" width="47" height="29" rx="7"/><text class="c" x="2283.5" y="1284">↑RVS</text></g>
<g id="oxygenation"><rect class="n r" x="2477" y="1367" width="101" height="31" rx="7"/><text class="c" x="2527.5" y="1386.5">↓ oxygénation</text></g>
<g id="apport"><rect class="n r" x="2332" y="1402" width="124" height="31" rx="7"/><text class="c" x="2394" y="1421.5">↓ apport O2 aux ¢</text></g>
<g id="perfusion"><rect class="n r" x="2339" y="1486" width="116" height="43" rx="7"/><text x="2349" y="1505">perfusion des<tspan x="2349" dy="14.6">tissus inefficace</tspan></text></g>
<g id="vasoconstrict"><rect class="n r" x="2549" y="1488" width="108" height="46" rx="7"/><text x="2559" y="1507">vasoconstrict<tspan x="2559" dy="14.6">compensatoire</tspan></text></g>
<g id="postcharge"><rect class="n r" x="2583" y="1586" width="97" height="32" rx="7"/><text class="c" x="2631.5" y="1606">↑post-charge</text></g>
<g id="dommages"><rect class="n r" x="2336" y="1588" width="116" height="58" rx="7"/><text x="2346" y="1607">dommages<tspan x="2346" dy="14.6">au métabolisme</tspan><tspan x="2346" dy="14.6">cellulaire</tspan></text></g>
<g id="ameliorant"><rect class="n p" x="2194" y="1544" width="132" height="88" rx="7"/><text x="2204" y="1563.5">améliorant la<tspan x="2204" dy="14.6">perfusion de</tspan><tspan x="2204" dy="14.6">l'artère coronaire</tspan><tspan x="2204" dy="14.6">et en ↓ postcharge</tspan><tspan x="2204" dy="14.6">ventricule G</tspan></text></g>
<g id="travail"><rect class="n p" x="1990" y="1550" width="153" height="72" rx="7"/><text x="2000" y="1568">↓travail du myocarde<tspan x="2000" dy="14.6">en améliorant l'apport</tspan><tspan x="2000" dy="14.6">au myocarde et en</tspan><tspan x="2000" dy="14.6">↓ sa demande</tspan></text></g>
<g id="txmedical"><rect class="n p" x="1826" y="1563" width="97" height="60" rx="7"/><text x="1836" y="1581.6">tx médical<tspan x="1836" dy="14.6">ne suffit pas</tspan><tspan x="1836" dy="14.6">pr tx le choc</tspan></text></g>
<g id="ballonbia"><rect class="n b" x="1554" y="1565" width="191" height="45" rx="7"/><text x="1564" y="1584">ballon intra-aortique (BIA)<tspan x="1564" dy="14.6">pr améliorer fct ventirculaire</tspan></text></g>
<g id="circulation"><rect class="n p" x="1367" y="1580" width="120" height="57" rx="7"/><text x="1377" y="1599">circulation ds<tspan x="1377" dy="14.6">la partie atteinte</tspan><tspan x="1381" dy="14.6">du &lt;3</tspan></text></g>
<g id="pontages"><rect class="n b" x="1597" y="1389" width="90" height="57" rx="7"/><text x="1607" y="1408">3 pontages<tspan x="1607" dy="14.6">aorto-</tspan><tspan x="1607" dy="14.6">coronariens</tspan></text></g>
<g id="indications"><rect class="n b" x="1842" y="1398" width="102" height="45" rx="7"/><text x="1852" y="1417">indications<tspan x="1852" dy="14.6">complications</tspan></text></g>
<g id="consentement"><rect class="n b" x="2031" y="1400" width="103" height="46" rx="7"/><text x="2041" y="1418">consentement<tspan x="2041" dy="14.6">opératoire</tspan></text></g>
<g id="restabilise"><rect class="n k" x="1428" y="665" width="85" height="60" rx="7"/><text x="1437" y="684.5">-restabilisé<tspan x="1437" dy="14.6">à cause</tspan><tspan x="1437" dy="14.6">ventilation</tspan></text></g>
<g id="tendance"><rect class="n k" x="1518" y="662" width="156" height="73" rx="7"/><text x="1528" y="682">-tendance à être<tspan x="1528" dy="14.6">basse à cause du choc</tspan><tspan x="1528" dy="14.6">-un peu restabilisé</tspan><tspan x="1528" dy="14.6">à cause bolus</tspan></text></g>
<g id="dc1"><rect class="n r" x="1770" y="748" width="44" height="30" rx="7"/><text class="c" x="1792" y="767">↓DC</text></g>
<g id="sx"><rect class="n r" x="1851" y="837" width="35" height="26" rx="7"/><text class="c" x="1868.5" y="854">sx</text></g>
<g id="choc"><rect class="n r" x="1795" y="922" width="139" height="32" rx="7"/><text class="c" x="1864.5" y="942">Choc cardiogénique</text></g>
<g id="fr16"><rect class="n b" x="1588" y="870" width="99" height="147" rx="7"/><text x="1598" y="888.6">-FR:16/min<tspan x="1598" dy="14.6">-SpO2:95%</tspan><tspan x="1598" dy="14.6">-PA: 104/74</tspan><tspan class="red" x="1598" dy="14.6">-FC:160/min</tspan><tspan class="red" x="1598" dy="14.6">-PAP: 35/28</tspan><tspan class="red" x="1598" dy="14.6">-W:24</tspan><tspan class="red" x="1598" dy="14.6">-PVC:14</tspan><tspan class="red" x="1598" dy="14.6">-DCI: 1.2</tspan><tspan class="red" x="1598" dy="14.6">-DUri:20ml/h</tspan></text></g>
<g id="analgopio"><rect class="n o" x="1432" y="807" width="100" height="61" rx="7"/><text x="1442" y="826">analgésique<tspan x="1442" dy="14.6">opioïde/</tspan><tspan x="1442" dy="14.6">anesthésique</tspan></text></g>
<g id="anxio"><rect class="n o" x="1328" y="821" width="98" height="46" rx="7"/><text x="1338" y="840">anxiolytique/<tspan x="1338" dy="14.6">hypnosédatif</tspan></text></g>
<g id="maintenir"><rect class="n o" x="1321" y="741" width="111" height="71" rx="7"/><text x="1331" y="759.5">maintenir<tspan x="1331" dy="14.6">pression</tspan><tspan x="1331" dy="14.6">qd hypotension</tspan><tspan x="1331" dy="14.6">sévère</tspan></text></g>
<g id="symp"><rect class="n o" x="1172" y="813" width="147" height="59" rx="7"/><text x="1182" y="832.75">sympathomimétique/<tspan x="1182" dy="14.4">vasopresseur(↑PA+</tspan><tspan x="1182" dy="14.4">contract.)</tspan></text></g>
<g id="ruleout"><rect class="n r" x="1685" y="1045" width="142" height="46" rx="7"/><text x="1694" y="1064">rule out (exclure)<tspan x="1694" dy="14.6">choc hypovolémique</tspan></text></g>
<g id="ecg"><rect class="n r" x="1736" y="1168" width="97" height="58" rx="7"/><text x="1746" y="1186">ECG<tspan x="1746" dy="14.6">pr confirmier</tspan><tspan x="1746" dy="14.6">choc cardio.</tspan></text></g>
<g id="radio"><rect class="n g" x="1885" y="1003" width="145" height="133" rx="7"/><text x="1894" y="1021.6">-radio thoracique<tspan x="1894" dy="14.6">-gaz sang artériel</tspan><tspan x="1894" dy="14.6">-mesure mécanique</tspan><tspan x="1894" dy="14.6">respiratoire</tspan><tspan x="1894" dy="14.6">-étude courbes</tspan><tspan x="1894" dy="14.6">ventilatoires</tspan><tspan x="1894" dy="14.6">-mesure et calcul</tspan><tspan x="1894" dy="14.6">paramètres hémody.</tspan></text></g>
<g id="epreuves"><rect class="n g" x="1901" y="1188" width="124" height="46" rx="7"/><text x="1911" y="1207">épreuves dx<tspan x="1911" dy="14.6">complémentaires</tspan></text></g>
<g id="evacomplete"><rect class="n g" x="1901" y="1271" width="136" height="45" rx="7"/><text x="1911" y="1290">EVA complète état<tspan x="1911" dy="14.6">cardiorespiratoire</tspan></text></g>
<g id="corriger"><rect class="n g" x="1585" y="1248" width="168" height="90" rx="7"/><text x="1595" y="1266.7">-corriger aN<tspan x="1595" dy="14.6">de gazométrie</tspan><tspan x="1595" dy="14.6">artérielle</tspan><tspan x="1595" dy="14.6">-qualité ventilat=PaCO2</tspan><tspan x="1595" dy="14.6">-qualité oxygénat=PaO2</tspan></text></g>
<g id="dobutamine2"><rect class="n b" x="1583" y="1108" width="113" height="45" rx="7"/><text x="1593" y="1127">↑ dobutamine à<tspan x="1593" dy="14.6">5mcg/kg/min</tspan></text></g>
<g id="choisir"><rect class="n g" x="1460" y="1278" width="117" height="59" rx="7"/><text x="1470" y="1297">choisir façon<tspan x="1474" dy="14.6">dont ventilation</tspan><tspan x="1474" dy="14.6">sera appliquée</tspan></text></g>
<g id="ptcombat"><rect class="n b" x="1335" y="1007" width="206" height="32" rx="7"/><text class="c" x="1438" y="1027.5">pt combat ∅ mode ventilatoire</text></g>
<g id="ventilateur"><rect class="n b" x="1274" y="1062" width="227" height="76" rx="7"/><text x="1284" y="1081">-ventilateur mode assisté-contrôlé<tspan x="1284" dy="14.6">-FiO2 100%</tspan><tspan x="1284" dy="14.6">-PEEP 5cm H2O</tspan><tspan x="1284" dy="14.6">-FR à16/min</tspan></text></g>
<g id="mecanisme"><rect class="n g" x="1287" y="1229" width="161" height="164" rx="7"/><text x="1297" y="1248">-mécanisme par lequel<tspan x="1297" dy="14.6">inspirat générée</tspan><tspan x="1297" dy="14.6">-mécanisme qui</tspan><tspan x="1297" dy="14.6">détermine inspirat</tspan><tspan x="1297" dy="14.6">(volumétrique ou</tspan><tspan x="1297" dy="14.6">pression contrôlée)</tspan><tspan x="1297" dy="14.6">-type de support ou</tspan><tspan x="1297" dy="14.6">portion du travail</tspan><tspan x="1297" dy="14.6">respiratoire assumée</tspan><tspan x="1297" dy="14.6">par ventilateur</tspan></text></g>
<g id="partager"><rect class="n g" x="1267" y="1438" width="86" height="56" rx="7"/><text x="1277" y="1456">partager le<tspan x="1277" dy="14.6">travail pt-</tspan><tspan x="1277" dy="14.6">ventilateur</tspan></text></g>
<g id="sanssucces"><rect class="n b" x="831" y="702" width="60" height="41" rx="7"/><text x="841" y="718.5">sans<tspan x="841" dy="14.6">succès</tspan></text></g>
<g id="endoprothese"><rect class="n b" x="1008" y="697" width="101" height="46" rx="7"/><text x="1018" y="716.7">endoprothèse<tspan x="1018" dy="14.6">(stent)</tspan></text></g>
<g id="structure"><rect class="n p" x="894" y="752" width="138" height="105" rx="7"/><text x="904" y="771.6">structure de métale<tspan x="904" dy="14.6">introduite ds artère</tspan><tspan x="904" dy="14.6">coronaire et mis en</tspan><tspan x="904" dy="14.6">expansion sur les</tspan><tspan x="904" dy="14.6">parois du vaisseau</tspan><tspan x="904" dy="14.6">où il y a lésion</tspan></text></g>
<g id="pontage"><rect class="n b" x="658" y="834" width="133" height="59" rx="7"/><text x="668" y="852">pontage<tspan x="668" dy="14.6">(nb déterminé</tspan><tspan x="668" dy="14.6">par chir cardiaque)</tspan></text></g>
<g id="revasc"><rect class="n b" x="1059" y="851" width="106" height="43" rx="7"/><text x="1069" y="870">revascularisat°<tspan x="1069" dy="14.6">du coeur</tspan></text></g>
<g id="adm"><rect class="n b" x="907" y="917" width="237" height="75" rx="7"/><text x="917" y="935">-adm lévophed à 0 ml/h<tspan x="917" dy="14.6">-titrer pr maintenir PAS&gt;110 mmHg</tspan><tspan x="917" dy="14.6">-versed 5mg IV</tspan><tspan x="917" dy="14.6">-fentanyl 100mcg IV</tspan></text></g>
<g id="sortir"><rect class="n b" x="734" y="961" width="60" height="58" rx="7"/><text x="744" y="979.6">sortir<tspan x="744" dy="14.6">durant</tspan><tspan x="744" dy="14.6">inter.</tspan></text></g>
<g id="changer"><rect class="n b" x="620" y="940" width="114" height="58" rx="7"/><text x="630" y="958.6">changer LN<tspan x="630" dy="14.6">pr ventimasque</tspan><tspan x="634" dy="14.6">à 100%</tspan></text></g>
<g id="intube"><rect class="n b" x="720" y="1068" width="74" height="30" rx="7"/><text class="c" x="757" y="1087">intubé**</text></g>
<g id="sedat"><rect class="n b" x="975" y="1095" width="219" height="46" rx="7"/><text x="985" y="1115">sédat a cause agitat<tspan x="985" dy="14.6">sous perfusion Propofol 10mg/ml</tspan></text></g>
<g id="anesthesique"><rect class="n o" x="658" y="1110" width="99" height="61" rx="7"/><text x="668" y="1129.6">anesthésique<tspan x="668" dy="14.6">(méca.d'act°</tspan><tspan x="668" dy="14.6">inconnu)</tspan></text></g>
<g id="debutee"><rect class="n b" x="837" y="1168" width="176" height="44" rx="7"/><text x="847" y="1186">débutée à 5ml/h et titrée<tspan x="847" dy="14.6">pr sédat 3 à échelle Riker</tspan></text></g>
<g id="precharge2"><rect class="n o" x="688" y="1178" width="88" height="30" rx="7"/><text class="c" x="732" y="1197">↓précharge</text></g>
<g id="dobutamine1"><rect class="n b" x="563" y="1226" width="153" height="131" rx="7"/><text x="573" y="1244">-dobutamine<tspan x="577" dy="14.6">2.5mcg/kg/min</tspan><tspan x="577" dy="14.6">(500mg/D5% 250ml)</tspan><tspan x="573" dy="14.6">-lasix IV stat</tspan><tspan x="573" dy="14.6">-si PA a baissé,</tspan><tspan x="573" dy="14.6">gardez NTG à 5</tspan><tspan x="573" dy="14.6">mcg/min, mais</tspan><tspan x="573" dy="14.6">cessez titrer</tspan></text></g>
<g id="diuretique"><rect class="n o" x="814" y="1229" width="194" height="43" rx="7"/><text x="824" y="1248.8">-diurétique/antihyperteuseur<tspan x="824" dy="14.6">-tx oedème dû à insuff &lt;3</tspan></text></g>
<g id="excret"><rect class="n o" x="1108" y="1159" width="125" height="128" rx="7"/><text x="1117" y="1177.4">-↑ excrét rénale<tspan x="1117" dy="14.2">-effets dilatateurs</tspan><tspan x="1117" dy="14.2">sur vaisseaux</tspan><tspan x="1117" dy="14.2">saguins réneaux</tspan><tspan x="1121" dy="14.2">et périphériques</tspan><tspan x="1117" dy="14.2">EFFet tx:diurèse+</tspan><tspan x="1117" dy="14.2">éliminat liquides</tspan><tspan x="1117" dy="14.2">en excès,↓PA</tspan></text></g>
<g id="inotrope"><rect class="n o" x="806" y="1283" width="232" height="115" rx="7"/><text x="816" y="1301.5">inotrope/<tspan x="816" dy="14.6">cardiotonique(↑tonicité myocarde)/</tspan><tspan x="816" dy="14.6">sympathomimétique (stimule SNS)</tspan><tspan x="816" dy="14.6">-tx de courte durée</tspan><tspan x="820" dy="14.6">de insuff &lt;3 à</tspan><tspan x="820" dy="14.6">cause contractilité</tspan><tspan x="820" dy="14.6">réduite</tspan></text></g>
<g id="stimulat"><rect class="n o" x="1123" y="1289" width="160" height="103" rx="7"/><text x="1133" y="1308">-stimulat récepteurs<tspan x="1133" dy="14.6">β1-adrénergiques du</tspan><tspan x="1137" dy="14.6">myocarde c effets</tspan><tspan x="1133" dy="14.6">minimes sur FC ou</tspan><tspan x="1133" dy="14.6">vaisseaux périphérique</tspan><tspan x="1133" dy="14.6">-EFFet tx: ↑DC ss ↑FC</tspan></text></g>
<g id="contract"><rect class="n o" x="878" y="1469" width="82" height="29" rx="7"/><text class="c" x="919" y="1488">↑ contract.</text></g>
<g id="agitation"><rect class="n y" x="963" y="1434" width="166" height="118" rx="7"/><text x="973" y="1453">7:agitation dangereuse/<tspan x="973" dy="14.6">6:grde agitation/</tspan><tspan x="973" dy="14.6">5:agitation/</tspan><tspan x="973" dy="14.6">4:calme, collaboration/</tspan><tspan x="973" dy="14.6">3:sédation/</tspan><tspan x="973" dy="14.6">2:grde sédation/</tspan><tspan x="973" dy="14.6">1:aucune rx/</tspan></text></g>
<g id="installation"><rect class="n b" x="1172" y="1564" width="85" height="59" rx="7"/><text x="1182" y="1582">installation<tspan x="1182" dy="14.6">moniteur</tspan><tspan x="1182" dy="14.6">cardiaque</tspan></text></g>
<g id="fibrillation"><rect class="n b" x="975" y="1572" width="88" height="43" rx="7"/><text x="985" y="1591">fibrillation<tspan x="989" dy="14.6">auriculaire</tspan></text></g>
<g id="evaproche"><rect class="n p" x="786" y="1578" width="157" height="61" rx="7"/><text x="796" y="1597.5">-EVA de proche état pt<tspan x="796" dy="14.6">-intervenir rapidement</tspan><tspan x="796" dy="14.6">pr diminuer complicat</tspan></text></g>
<g id="agir"><rect class="n p" x="760" y="1668" width="122" height="75" rx="7"/><text x="770" y="1687">-agir rapidement<tspan x="770" dy="14.6">-adm NTG IV px</tspan><tspan x="770" dy="14.6">pr éviter drl a/n</tspan><tspan x="770" dy="14.6">poitrine</tspan></text></g>
<g id="hydratat"><rect class="n p" x="789" y="1748" width="111" height="73" rx="7"/><text x="799" y="1767">-hydratat<tspan x="816" dy="14.6">-fluide IV</tspan><tspan x="816" dy="14.6">-fluide PO</tspan><tspan x="799" dy="14.6">selon tolérance</tspan></text></g>
<g id="observer"><rect class="n p" x="904" y="1704" width="236" height="310" rx="7"/><text x="914" y="1723">-observer pr ss saignement<tspan x="918" dy="14.55">ou swelling a/n site</tspan><tspan x="914" dy="14.55">-EVA circulat adéquate aux</tspan><tspan x="918" dy="14.55">extrémités</tspan><tspan x="914" dy="14.55">-EVA si dlr au dos (signe de</tspan><tspan x="914" dy="14.55">saignement rétropéritonéal</tspan><tspan x="914" dy="14.55">a/n artère interne au site de</tspan><tspan x="914" dy="14.55">ponction</tspan><tspan x="914" dy="14.55">-pt doit savoir qu'il doit</tspan><tspan x="914" dy="14.55">garder jambe impliquée</tspan><tspan x="914" dy="14.55">droite et ne ∅ élever tête du lit</tspan><tspan x="914" dy="14.55">&gt;30°</tspan><tspan x="914" dy="14.55">-après retrait, appliquer pression</tspan><tspan x="914" dy="14.55">directe sur le site pdt 15-30 min</tspan><tspan x="914" dy="14.55">-post 6-8h procédure, pt peut</tspan><tspan x="914" dy="14.55">marcher</tspan><tspan x="914" dy="14.55">-pouls est monitoré q15min pdt 2h,</tspan><tspan x="914" dy="14.55">puis q1-2h ad sheath est retiré</tspan><tspan x="914" dy="14.55">-après retrait sheath, pls q15min</tspan><tspan x="914" dy="14.55">pdt période brève</tspan></text></g>
<g id="murmures"><rect class="n b" x="142" y="793" width="90" height="58" rx="7"/><text x="152" y="809.5">-murmures<tspan x="152" dy="14.6">vésiculaires</tspan><tspan x="152" dy="14.6">présents</tspan></text></g>
<g id="evaprimaire"><rect class="n b" x="284" y="788" width="98" height="31" rx="7"/><text class="c" x="333" y="807.5">EVA primaire</text></g>
<g id="evasecondaire"><rect class="n b" x="129" y="1034" width="112" height="30" rx="7"/><text class="c" x="185" y="1053">EVA secondaire</text></g>
<g id="nA"><rect class="n b" x="499" y="921" width="34" height="39" rx="7"/><text x="509" y="940">A:<tspan x="509" dy="14.6">-</tspan></text></g>
<g id="nB"><rect class="n b" x="487" y="986" width="110" height="89" rx="7"/><text x="497" y="1004.6">B:<tspan class="red" x="497" dy="14.6">-FR:34/min</tspan><tspan x="497" dy="14.6">-superficielle</tspan><tspan x="497" dy="14.6">-laborieuse</tspan><tspan x="497" dy="14.6">-faciès grisâtre</tspan></text></g>
<g id="nD"><rect class="n b" x="500" y="1091" width="56" height="46" rx="7"/><text x="510" y="1109.5">D:<tspan x="510" dy="14.6">-agité</tspan></text></g>
<g id="nC"><rect class="n b" x="496" y="1157" width="102" height="60" rx="7"/><text x="506" y="1175">C:<tspan class="red" x="506" dy="14.6">-peau moite</tspan><tspan class="red" x="506" dy="14.6">-FC: 150/min</tspan></text></g>
<g id="nE"><rect class="n b" x="340" y="1221" width="34" height="39" rx="7"/><text x="350" y="1240">E:<tspan x="350" dy="14.6">-</tspan></text></g>
<g id="nF"><rect class="n b" x="334" y="1275" width="208" height="118" rx="7"/><text x="344" y="1293.5">F:<tspan x="344" dy="14.6">-PA:100/71</tspan><tspan x="344" dy="14.6">-SpO2: 93%</tspan><tspan x="344" dy="14.6">-PAP: 31/26 (N:25/10 mm Hg)</tspan><tspan x="344" dy="14.6">-W:22 (N: 5-12 mm Hg)</tspan><tspan x="344" dy="14.6">-PVC:12 (N:3-8 mmHg)</tspan><tspan class="red" x="344" dy="14.6">-DI: 1.14 (N:2.5-4.5L/min/m²)</tspan></text></g>
<g id="nG"><rect class="n b" x="338" y="1399" width="166" height="74" rx="7"/><text x="348" y="1416.75">G:<tspan class="red" x="348" dy="14.6">-dlr à 9/10 va ad bras G</tspan><tspan x="348" dy="14.6">-inf rassure de façon</tspan><tspan x="348" dy="14.6">verbale son épouse</tspan></text></g>
<g id="nH"><rect class="n b" x="339" y="1486" width="34" height="28" rx="7"/><text x="349" y="1504.6">H:</text></g>
<g id="nI"><rect class="n b" x="340" y="1526" width="30" height="39" rx="7"/><text x="350" y="1544.6">I:<tspan x="350" dy="14">-</tspan></text></g>
<g id="angio2"><rect class="n b" x="333" y="1576" width="99" height="32" rx="7"/><text class="c" x="382.5" y="1595">angioplastie*</text></g>
<g id="perfntg"><rect class="n b" x="630" y="1384" width="149" height="120" rx="7"/><text x="640" y="1403">-perfusion NTG 50<tspan x="644" dy="14.6">mg/250ml de d5W</tspan><tspan x="640" dy="14.6">à 5 mcg/min</tspan><tspan x="640" dy="14.6">titrer perfusion ad</tspan><tspan x="640" dy="14.6">soulagement dlr en</tspan><tspan x="644" dy="14.6">maintenant PA syst.</tspan><tspan x="640" dy="14.6">&gt;110 mm Hg</tspan></text></g>
<g id="restenosis"><rect class="n p" x="608" y="1556" width="130" height="102" rx="7"/><text x="618" y="1574.7">-restenosis<tspan class="bd" x="618" dy="14.6">-resténose</tspan><tspan class="bd" x="618" dy="14.6">des vaisseaux</tspan><tspan x="618" dy="14.6">post-procédure</tspan><tspan x="618" dy="14.6">-difficulté d'accès</tspan><tspan x="622" dy="14.6">à certaine lésions</tspan></text></g>
<g id="angine"><rect class="n p" x="606" y="1665" width="104" height="88" rx="7"/><text x="616" y="1683"><tspan class="bd">angine/</tspan><tspan class="bd" x="616" dy="14.6">élévation ST</tspan><tspan x="616" dy="14.6">(indicateur de</tspan><tspan x="616" dy="14.6">ischémie du)</tspan><tspan x="616" dy="14.6">myocarde)</tspan></text></g>
<g id="nephro"><rect class="n p" x="607" y="1761" width="133" height="44" rx="7"/><text x="617" y="1779.6"><tspan class="bd">néphrotoxicité</tspan><tspan x="617" dy="14.6">(contrast colorant)</tspan></text></g>
<g id="saignement"><rect class="n p" x="611" y="1814" width="149" height="88" rx="7"/><text x="621" y="1832"><tspan class="bd">-saignement</tspan><tspan class="bd" x="621" dy="14.6">-hématome</tspan><tspan x="621" dy="14.6">au site d'insertion</tspan><tspan x="621" dy="14.6">(fémoral)(à cause</tspan><tspan x="621" dy="14.6">de tx antiocoagulant)</tspan></text></g>
</svg>
